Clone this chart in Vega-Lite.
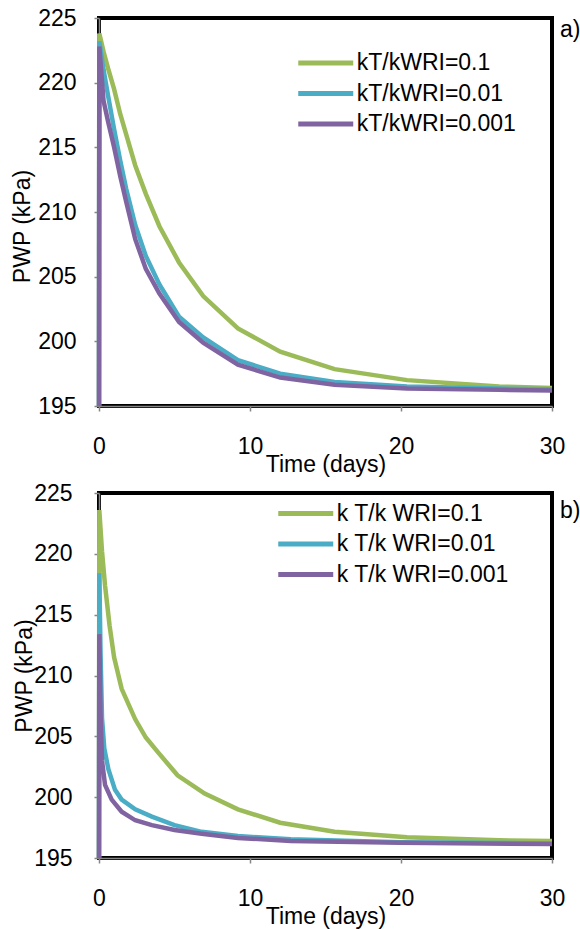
{
  "$schema": "https://vega.github.io/schema/vega-lite/v6.json",
  "background": "white",
  "padding": {"left": 9, "top": 5, "right": 0, "bottom": 0},
  "spacing": 2,
  "config": {
    "font": "Liberation Sans",
    "view": {"stroke": "black", "strokeWidth": 4},
    "axis": {
      "labelFont": "Liberation Sans", "labelFontSize": 23, "labelColor": "black", "labelFlush": false,
      "titleFont": "Liberation Sans", "titleFontSize": 23, "titleFontWeight": "normal", "titleColor": "black",
      "grid": false, "domainColor": "#868686", "domainWidth": 1.5,
      "tickColor": "#868686", "tickWidth": 1.5, "tickSize": 5
    },
    "legend": {
      "labelFont": "Liberation Sans", "labelFontSize": 23, "labelColor": "black", "labelLimit": 400,
      "symbolType": "M-2,0H2", "symbolSize": 756, "symbolStrokeWidth": 5, "symbolOffset": 11.25, "labelOffset": 14.5,
      "rowPadding": 1.5, "padding": 0, "titlePadding": 0
    },
    "title": {"font": "Liberation Sans", "fontSize": 23, "fontWeight": "normal", "color": "black"}
  },
  "datasets": {
    "a": [
      {"s": "kT/kWRI=0.1", "t": 0, "p": 195},
      {"s": "kT/kWRI=0.1", "t": 0.02, "p": 223.8},
      {"s": "kT/kWRI=0.1", "t": 0.3, "p": 222.4},
      {"s": "kT/kWRI=0.1", "t": 0.6, "p": 221.1},
      {"s": "kT/kWRI=0.1", "t": 1.0, "p": 219.5},
      {"s": "kT/kWRI=0.1", "t": 1.4, "p": 217.6},
      {"s": "kT/kWRI=0.1", "t": 1.8, "p": 216.0},
      {"s": "kT/kWRI=0.1", "t": 2.4, "p": 213.6},
      {"s": "kT/kWRI=0.1", "t": 3.1, "p": 211.4},
      {"s": "kT/kWRI=0.1", "t": 4.0, "p": 208.9},
      {"s": "kT/kWRI=0.1", "t": 5.3, "p": 206.1},
      {"s": "kT/kWRI=0.1", "t": 6.9, "p": 203.5},
      {"s": "kT/kWRI=0.1", "t": 9.2, "p": 201.0},
      {"s": "kT/kWRI=0.1", "t": 12, "p": 199.2},
      {"s": "kT/kWRI=0.1", "t": 15.6, "p": 197.85},
      {"s": "kT/kWRI=0.1", "t": 20.4, "p": 197.0},
      {"s": "kT/kWRI=0.1", "t": 26.5, "p": 196.5},
      {"s": "kT/kWRI=0.1", "t": 30, "p": 196.4},
      {"s": "kT/kWRI=0.01", "t": 0, "p": 195},
      {"s": "kT/kWRI=0.01", "t": 0.02, "p": 223.2},
      {"s": "kT/kWRI=0.01", "t": 0.3, "p": 221.0},
      {"s": "kT/kWRI=0.01", "t": 0.6, "p": 219.0},
      {"s": "kT/kWRI=0.01", "t": 1.0, "p": 216.4},
      {"s": "kT/kWRI=0.01", "t": 1.4, "p": 214.0},
      {"s": "kT/kWRI=0.01", "t": 1.8, "p": 211.8},
      {"s": "kT/kWRI=0.01", "t": 2.4, "p": 209.0},
      {"s": "kT/kWRI=0.01", "t": 3.1, "p": 206.6},
      {"s": "kT/kWRI=0.01", "t": 4.0, "p": 204.4},
      {"s": "kT/kWRI=0.01", "t": 5.3, "p": 201.9},
      {"s": "kT/kWRI=0.01", "t": 6.9, "p": 200.3},
      {"s": "kT/kWRI=0.01", "t": 9.2, "p": 198.55},
      {"s": "kT/kWRI=0.01", "t": 12, "p": 197.5},
      {"s": "kT/kWRI=0.01", "t": 15.6, "p": 196.85},
      {"s": "kT/kWRI=0.01", "t": 20.4, "p": 196.5},
      {"s": "kT/kWRI=0.01", "t": 26.5, "p": 196.35},
      {"s": "kT/kWRI=0.01", "t": 30, "p": 196.3},
      {"s": "kT/kWRI=0.001", "t": 0, "p": 195},
      {"s": "kT/kWRI=0.001", "t": 0.02, "p": 222.8},
      {"s": "kT/kWRI=0.001", "t": 0.3, "p": 218.6},
      {"s": "kT/kWRI=0.001", "t": 0.6, "p": 217.0},
      {"s": "kT/kWRI=0.001", "t": 1.0, "p": 215.0},
      {"s": "kT/kWRI=0.001", "t": 1.4, "p": 212.8},
      {"s": "kT/kWRI=0.001", "t": 1.8, "p": 210.8},
      {"s": "kT/kWRI=0.001", "t": 2.4, "p": 207.9},
      {"s": "kT/kWRI=0.001", "t": 3.1, "p": 205.6},
      {"s": "kT/kWRI=0.001", "t": 4.0, "p": 203.7},
      {"s": "kT/kWRI=0.001", "t": 5.3, "p": 201.5},
      {"s": "kT/kWRI=0.001", "t": 6.9, "p": 199.9},
      {"s": "kT/kWRI=0.001", "t": 9.2, "p": 198.2},
      {"s": "kT/kWRI=0.001", "t": 12, "p": 197.2},
      {"s": "kT/kWRI=0.001", "t": 15.6, "p": 196.65},
      {"s": "kT/kWRI=0.001", "t": 20.4, "p": 196.35},
      {"s": "kT/kWRI=0.001", "t": 26.5, "p": 196.25},
      {"s": "kT/kWRI=0.001", "t": 30, "p": 196.2}
    ],
    "b": [
      {"s": "k T/k WRI=0.1", "t": 0, "p": 195},
      {"s": "k T/k WRI=0.1", "t": 0.02, "p": 223.6},
      {"s": "k T/k WRI=0.1", "t": 0.2, "p": 220.2},
      {"s": "k T/k WRI=0.1", "t": 0.4, "p": 217.4},
      {"s": "k T/k WRI=0.1", "t": 0.7, "p": 214.1},
      {"s": "k T/k WRI=0.1", "t": 1.0, "p": 211.5},
      {"s": "k T/k WRI=0.1", "t": 1.5, "p": 208.9},
      {"s": "k T/k WRI=0.1", "t": 2.4, "p": 206.4},
      {"s": "k T/k WRI=0.1", "t": 3.1, "p": 204.9},
      {"s": "k T/k WRI=0.1", "t": 3.9, "p": 203.7},
      {"s": "k T/k WRI=0.1", "t": 5.2, "p": 201.8},
      {"s": "k T/k WRI=0.1", "t": 7.0, "p": 200.3},
      {"s": "k T/k WRI=0.1", "t": 9.2, "p": 199.0},
      {"s": "k T/k WRI=0.1", "t": 12, "p": 197.9},
      {"s": "k T/k WRI=0.1", "t": 15.6, "p": 197.15},
      {"s": "k T/k WRI=0.1", "t": 20.4, "p": 196.7},
      {"s": "k T/k WRI=0.1", "t": 26.5, "p": 196.45},
      {"s": "k T/k WRI=0.1", "t": 30, "p": 196.4},
      {"s": "k T/k WRI=0.01", "t": 0, "p": 195},
      {"s": "k T/k WRI=0.01", "t": 0.02, "p": 218.4},
      {"s": "k T/k WRI=0.01", "t": 0.1, "p": 212.0},
      {"s": "k T/k WRI=0.01", "t": 0.2, "p": 206.5},
      {"s": "k T/k WRI=0.01", "t": 0.35, "p": 204.0},
      {"s": "k T/k WRI=0.01", "t": 0.62, "p": 202.3},
      {"s": "k T/k WRI=0.01", "t": 1.06, "p": 200.6},
      {"s": "k T/k WRI=0.01", "t": 1.5, "p": 199.8},
      {"s": "k T/k WRI=0.01", "t": 2.4, "p": 199.0},
      {"s": "k T/k WRI=0.01", "t": 3.5, "p": 198.4},
      {"s": "k T/k WRI=0.01", "t": 5.0, "p": 197.7},
      {"s": "k T/k WRI=0.01", "t": 6.8, "p": 197.15},
      {"s": "k T/k WRI=0.01", "t": 9.2, "p": 196.8},
      {"s": "k T/k WRI=0.01", "t": 12.7, "p": 196.55},
      {"s": "k T/k WRI=0.01", "t": 20, "p": 196.3},
      {"s": "k T/k WRI=0.01", "t": 30, "p": 196.2},
      {"s": "k T/k WRI=0.001", "t": 0, "p": 195},
      {"s": "k T/k WRI=0.001", "t": 0.02, "p": 213.4},
      {"s": "k T/k WRI=0.001", "t": 0.1, "p": 207.0},
      {"s": "k T/k WRI=0.001", "t": 0.2, "p": 203.0},
      {"s": "k T/k WRI=0.001", "t": 0.4, "p": 201.0},
      {"s": "k T/k WRI=0.001", "t": 0.84, "p": 199.8},
      {"s": "k T/k WRI=0.001", "t": 1.5, "p": 198.8},
      {"s": "k T/k WRI=0.001", "t": 2.4, "p": 198.1},
      {"s": "k T/k WRI=0.001", "t": 3.5, "p": 197.7},
      {"s": "k T/k WRI=0.001", "t": 5.0, "p": 197.3},
      {"s": "k T/k WRI=0.001", "t": 6.8, "p": 197.0},
      {"s": "k T/k WRI=0.001", "t": 9.2, "p": 196.65},
      {"s": "k T/k WRI=0.001", "t": 12.7, "p": 196.4},
      {"s": "k T/k WRI=0.001", "t": 20, "p": 196.25},
      {"s": "k T/k WRI=0.001", "t": 30, "p": 196.15}
    ]
  },
  "vconcat": [
    {
      "width": 453,
      "height": 388,
      "title": {"text": "a)", "orient": "top", "anchor": "end", "frame": "group", "align": "left", "dx": 8, "offset": -34.5},
      "data": {"name": "a"},
      "mark": {"type": "line", "strokeWidth": 4.5},
      "encoding": {
        "x": {"field": "t", "type": "quantitative", "scale": {"domain": [0, 30], "nice": false},
              "axis": {"values": [0, 10, 20, 30], "title": "Time (days)", "labelPadding": 24, "titlePadding": -5}},
        "y": {"field": "p", "type": "quantitative", "scale": {"domain": [195, 225], "nice": false, "zero": false},
              "axis": {"values": [195, 200, 205, 210, 215, 220, 225], "title": "PWP (kPa)", "labelPadding": 18, "titlePadding": 3, "titleY": 208}},
        "color": {"field": "s", "type": "nominal",
                  "scale": {"domain": ["kT/kWRI=0.1", "kT/kWRI=0.01", "kT/kWRI=0.001"], "range": ["#9BBB59", "#4BACC6", "#8064A2"]},
                  "legend": {"title": null, "orient": "none", "legendX": 199, "legendY": 28.5}}
      }
    },
    {
      "width": 453,
      "height": 365,
      "title": {"text": "b)", "orient": "top", "anchor": "end", "frame": "group", "align": "left", "dx": 8, "offset": -40.5},
      "data": {"name": "b"},
      "mark": {"type": "line", "strokeWidth": 4.5},
      "encoding": {
        "x": {"field": "t", "type": "quantitative", "scale": {"domain": [0, 30], "nice": false},
              "axis": {"values": [0, 10, 20, 30], "title": "Time (days)", "labelPadding": 24, "titlePadding": -5}},
        "y": {"field": "p", "type": "quantitative", "scale": {"domain": [195, 225], "nice": false, "zero": false},
              "axis": {"values": [195, 200, 205, 210, 215, 220, 225], "title": "PWP (kPa)", "labelPadding": 22, "titlePadding": -3}},
        "color": {"field": "s", "type": "nominal",
                  "scale": {"domain": ["k T/k WRI=0.1", "k T/k WRI=0.01", "k T/k WRI=0.001"], "range": ["#9BBB59", "#4BACC6", "#8064A2"]},
                  "legend": {"title": null, "orient": "none", "legendX": 179, "legendY": 4}}
      }
    }
  ],
  "resolve": {"scale": {"color": "independent"}, "legend": {"color": "independent"}}
}
